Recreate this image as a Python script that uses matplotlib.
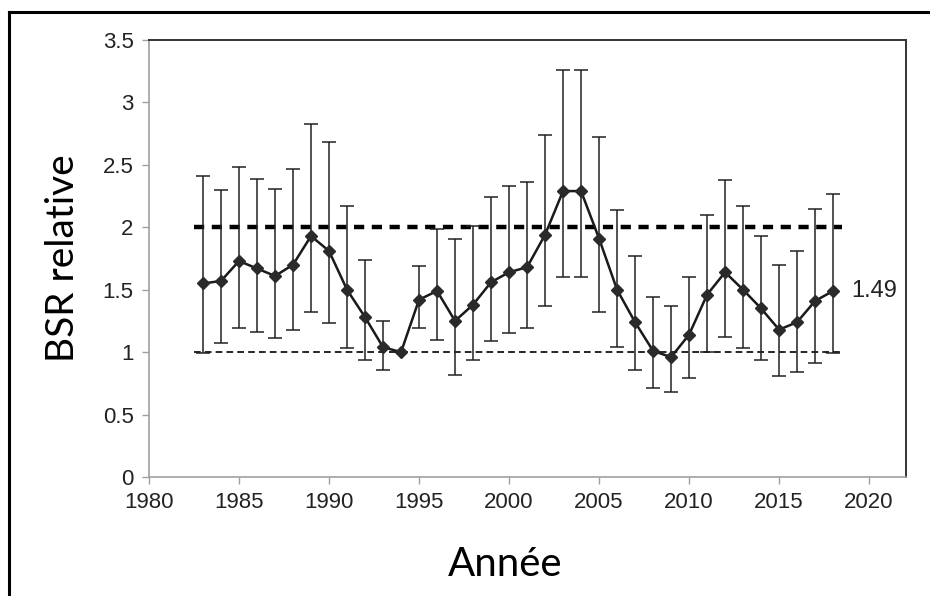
import matplotlib
matplotlib.use('Agg')
import matplotlib.pyplot as plt
from matplotlib.lines import Line2D
import numpy as np

# donnees
annees = np.arange(1983, 2019)
bsr = [1.55, 1.57, 1.73, 1.67, 1.61, 1.70, 1.93, 1.81, 1.50, 1.28, 1.04, 1.00,
       1.42, 1.49, 1.25, 1.38, 1.56, 1.64, 1.68, 1.94, 2.29, 2.29, 1.91, 1.50,
       1.24, 1.01, 0.96, 1.14, 1.46, 1.64, 1.50, 1.35, 1.18, 1.24, 1.41, 1.49]
borne_sup = [2.41, 2.30, 2.48, 2.39, 2.31, 2.47, 2.83, 2.68, 2.17, 1.74, 1.25, 1.00,
             1.69, 1.99, 1.91, 2.01, 2.24, 2.33, 2.36, 2.74, 3.26, 3.26, 2.72, 2.14,
             1.77, 1.44, 1.37, 1.60, 2.10, 2.38, 2.17, 1.93, 1.70, 1.81, 2.15, 2.27]
borne_inf = [0.99, 1.07, 1.19, 1.16, 1.11, 1.18, 1.32, 1.23, 1.03, 0.94, 0.86, 1.00,
             1.19, 1.10, 0.82, 0.94, 1.09, 1.15, 1.19, 1.37, 1.60, 1.60, 1.32, 1.04,
             0.86, 0.71, 0.68, 0.79, 1.00, 1.12, 1.03, 0.94, 0.81, 0.84, 0.91, 0.99]
seuil_haut = 2
seuil_bas = 1
x_seuils = [1982.5, 2018.5]
x_ticks = [1980, 1985, 1990, 1995, 2000, 2005, 2010, 2015, 2020]
y_ticks = [0, 0.5, 1, 1.5, 2, 2.5, 3, 3.5]
y_labels = ['0', '0.5', '1', '1.5', '2', '2.5', '3', '3.5']

plt.rcParams['font.family'] = ['Liberation Sans', 'DejaVu Sans']

fig = plt.figure(figsize=(9.3, 5.96), dpi=100)
ax = fig.add_axes([149/930, 1 - 477/596, (906 - 149)/930, (477 - 40)/596])

bsr = np.array(bsr)
err = [bsr - np.array(borne_inf), np.array(borne_sup) - bsr]

ax.plot(x_seuils, [seuil_haut] * 2, color='black', lw=3.2, dashes=(2.3, 1.7),
        dash_capstyle='butt', zorder=2)
ax.plot(x_seuils, [seuil_bas] * 2, color='black', lw=1.2, dashes=(4, 2.5), zorder=2)

ax.errorbar(annees, bsr, yerr=err, fmt='none', ecolor='#222222', elinewidth=1.1,
            capsize=5, capthick=1.1, zorder=3)
ax.plot(annees, bsr, color='#1a1a1a', lw=1.8, marker='D', markersize=6.5,
        markerfacecolor='#2a2a2a', markeredgecolor='#2a2a2a', zorder=4)

ax.text(2019.0, 1.49, '1.49', va='center', ha='left', fontsize=17, color='#222222')

ax.set_xlim(1980, 2022.05)
ax.set_ylim(0, 3.5)
ax.set_xticks(x_ticks)
ax.set_xticklabels([str(a) for a in x_ticks])
ax.set_yticks(y_ticks)
ax.set_yticklabels(y_labels)
ax.tick_params(axis='both', direction='out', length=5, width=1, color='#a0a0a0',
               labelsize=16, labelcolor='#222222', pad=6)

for s in ['left', 'bottom']:
    ax.spines[s].set_color('#a0a0a0')
    ax.spines[s].set_linewidth(1.2)
for s in ['top', 'right']:
    ax.spines[s].set_color('#333333')
    ax.spines[s].set_linewidth(1.4)

ax.set_ylabel('BSR relative', fontsize=28, family=['Lato', 'DejaVu Sans'], labelpad=16)
fig.text(505/930, 1 - 565/596, 'Année', fontsize=29, family=['Lato', 'DejaVu Sans'],
         ha='center', va='center')

# cadre exterieur (gauche et haut)
fig.add_artist(Line2D([9/930, 9/930], [0, 1 - 12/596], color='black', lw=2.2,
                      transform=fig.transFigure))
fig.add_artist(Line2D([9/930, 1], [1 - 12/596, 1 - 12/596], color='black', lw=2.2,
                      transform=fig.transFigure))

fig.savefig('out.png', dpi=100)
